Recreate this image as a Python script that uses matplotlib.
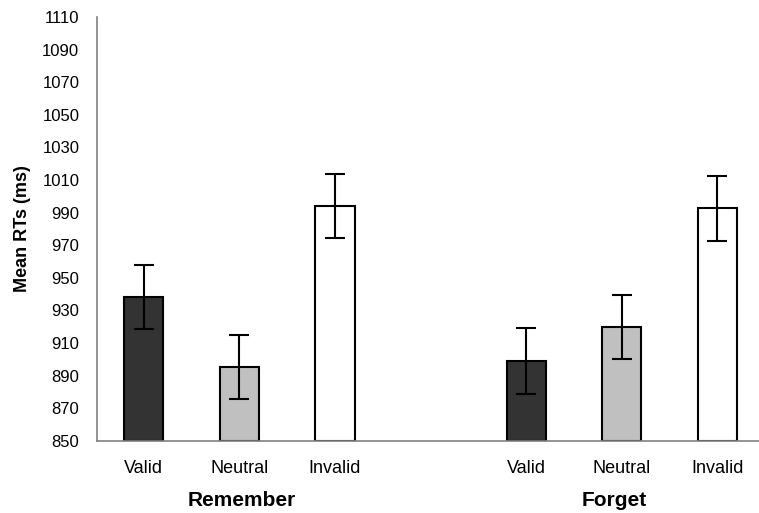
import matplotlib
matplotlib.use("Agg")
import matplotlib.pyplot as plt
import numpy as np

plt.rcParams['font.family'] = ['Liberation Sans', 'DejaVu Sans']

groups = ["Remember", "Forget"]
conditions = ["Valid", "Neutral", "Invalid"]
remember_rt = [938, 895, 994]
remember_err = [19.6, 19.6, 19.7]
forget_rt = [899, 920, 992.5]
forget_err = [20.2, 19.6, 20.0]
yticks = list(range(850, 1111, 20))

colors = ["#333333", "#c0c0c0", "#ffffff"]

fig = plt.figure(figsize=(7.59, 5.13), dpi=100)
ax = fig.add_axes([96.7 / 759, 1 - 440.7 / 513, 1 - 96.7 / 759, (440.7 - 17) / 513])

x_rem = np.array([0, 1, 2])
x_for = np.array([4, 5, 6])
width = 0.41

for xs, vals, errs in [(x_rem, remember_rt, remember_err), (x_for, forget_rt, forget_err)]:
    ax.bar(xs, np.array(vals) - 850, bottom=850, width=width, color=colors,
           edgecolor="black", linewidth=1.5, zorder=2)
    ax.errorbar(xs, vals, yerr=errs, fmt="none", ecolor="black", elinewidth=1.5,
                capsize=7.5, capthick=1.5, zorder=3)

ax.set_ylim(850, 1110)
ax.set_xlim(-0.493, 6.437)
ax.set_yticks(yticks)
ax.set_yticklabels([str(t) for t in yticks], fontsize=12)
ax.set_xticks(list(x_rem) + list(x_for))
ax.set_xticklabels(conditions + conditions, fontsize=13)
ax.tick_params(axis="y", length=0, pad=12.5)
ax.tick_params(axis="x", length=0, pad=14)

for side in ["top", "right"]:
    ax.spines[side].set_visible(False)
for side in ["left", "bottom"]:
    ax.spines[side].set_color("#808080")
    ax.spines[side].set_linewidth(1.2)

ax.set_ylabel("Mean RTs (ms)", fontsize=13, fontweight="bold", labelpad=8)

ax.text(1.024, -0.14, groups[0], transform=ax.get_xaxis_transform(),
        ha="center", va="center", fontsize=15, fontweight="bold")
ax.text(4.925, -0.14, groups[1], transform=ax.get_xaxis_transform(),
        ha="center", va="center", fontsize=15, fontweight="bold")

fig.savefig("out.png", dpi=100)
